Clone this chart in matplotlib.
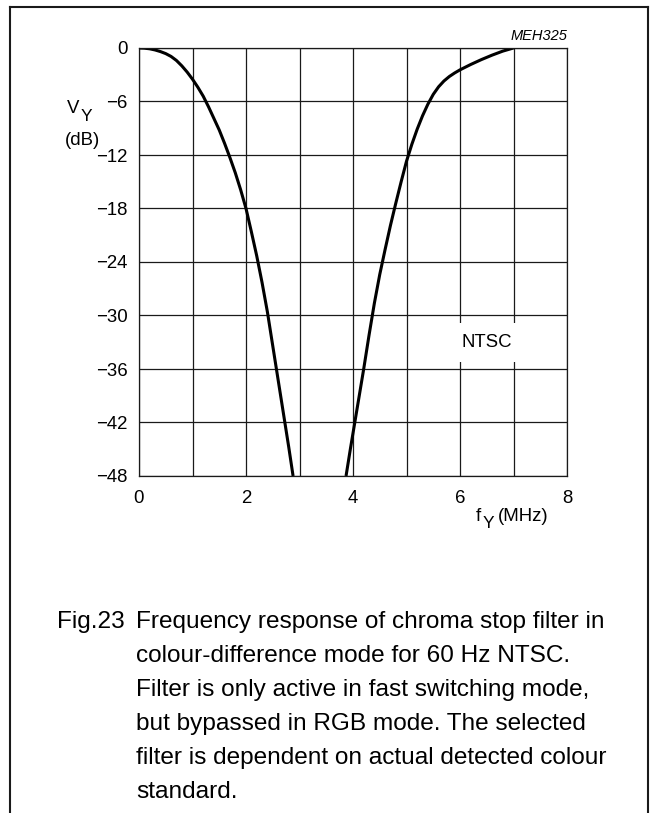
import numpy as np
import matplotlib
matplotlib.use("Agg")
import matplotlib.pyplot as plt
from matplotlib.lines import Line2D

plt.rcParams['font.family'] = ['Liberation Sans', 'DejaVu Sans']

# curve: frequency (MHz) vs response (dB)
f_low = [0.0, 0.1, 0.2, 0.3, 0.4, 0.5, 0.6, 0.7, 0.8, 0.9, 1.0, 1.1, 1.2, 1.3, 1.4,
         1.5, 1.6, 1.7, 1.8, 1.9, 2.0, 2.1, 2.2, 2.3, 2.4, 2.5, 2.6, 2.7, 2.8, 2.88]
v_low = [0.0, -0.02, -0.09, -0.22, -0.4, -0.63, -0.95, -1.4, -2.0, -2.7, -3.5, -4.4, -5.4, -6.6, -7.9,
         -9.2, -10.7, -12.3, -14.0, -15.9, -18.0, -20.6, -23.3, -26.3, -29.6, -33.4, -37.2, -41.0, -44.8, -48.0]
f_high = [3.87, 3.95, 4.0, 4.1, 4.2, 4.3, 4.4, 4.5, 4.6, 4.7, 4.8, 4.9, 5.0, 5.1, 5.2,
          5.3, 5.4, 5.5, 5.6, 5.7, 5.8, 5.9, 6.0, 6.2, 6.4, 6.6, 6.8, 7.0]
v_high = [-48.0, -45.0, -43.2, -39.6, -36.0, -32.2, -28.6, -25.4, -22.6, -19.9, -17.4, -15.0, -12.7, -10.8, -9.1,
          -7.6, -6.3, -5.2, -4.35, -3.7, -3.2, -2.8, -2.45, -1.85, -1.3, -0.8, -0.35, 0.0]

x_ticks = [0, 2, 4, 6, 8]
y_ticks = [0, -6, -12, -18, -24, -30, -36, -42, -48]

caption_head = "Fig.23"
caption_lines = [
    "Frequency response of chroma stop filter in",
    "colour-difference mode for 60 Hz NTSC.",
    "Filter is only active in fast switching mode,",
    "but bypassed in RGB mode. The selected",
    "filter is dependent on actual detected colour",
    "standard.",
]

W, H = 655, 813
fig = plt.figure(figsize=(W / 100, H / 100), dpi=100)


def fx(px):
    return px / W


def fy(py):
    return 1 - py / H


# axes box in pixels: left 139, right 567, top 48, bottom 476
ax = fig.add_axes([fx(139), fy(476), fx(567) - fx(139), fy(48) - fy(476)])
ax.plot(f_low, v_low, color='black', lw=2.2, solid_capstyle='butt', solid_joinstyle='round')
ax.plot(f_high, v_high, color='black', lw=2.2, solid_capstyle='butt', solid_joinstyle='round')

ax.set_xlim(0, 8)
ax.set_ylim(-48, 0)
ax.set_xticks(x_ticks)
ax.set_xticks(range(0, 9), minor=True)
ax.set_yticks(y_ticks)
ax.set_xticklabels([str(t) for t in x_ticks])
ax.set_yticklabels(['0' if t == 0 else '\u2212' + str(-t) for t in y_ticks])
ax.tick_params(which='both', length=0, labelsize=13.4, pad=8)
ax.tick_params(axis='x', pad=10)
ax.grid(which='both', color='#1a1a1a', lw=0.9)
for s in ax.spines.values():
    s.set_color('#1a1a1a')
    s.set_linewidth(0.9)

ax.text(6.5, -33, 'NTSC', ha='center', va='center', fontsize=13.4,
        bbox=dict(facecolor='white', edgecolor='none', pad=8))

# axis labels
fig.text(fx(67), fy(113), 'V', fontsize=13.4, ha='left', va='baseline')
fig.text(fx(81), fy(121), 'Y', fontsize=12.5, ha='left', va='baseline')
fig.text(fx(65), fy(145), '(dB)', fontsize=13.4, ha='left', va='baseline')

fig.text(fx(476), fy(521), 'f', fontsize=13.4, ha='left', va='baseline')
fig.text(fx(483), fy(528), 'Y', fontsize=12.5, ha='left', va='baseline')
fig.text(fx(498), fy(521), '(MHz)', fontsize=13.4, ha='left', va='baseline')

fig.text(fx(567), fy(40), 'MEH325', fontsize=10.5, style='italic', ha='right', va='baseline')

# caption
base0, step = 628, 34
fig.text(fx(57), fy(base0), caption_head, fontsize=17.6, ha='left', va='baseline')
for i, line in enumerate(caption_lines):
    fig.text(fx(136), fy(base0 + i * step), line, fontsize=17.6, ha='left', va='baseline')

# outer frame (open at bottom)
frame_kw = dict(color='#1a1a1a', lw=1.5, transform=fig.transFigure)
fig.add_artist(Line2D([fx(10), fx(10)], [fy(7), 0], **frame_kw))
fig.add_artist(Line2D([fx(648), fx(648)], [fy(7), 0], **frame_kw))
fig.add_artist(Line2D([fx(10), fx(648)], [fy(7), fy(7)], **frame_kw))

fig.savefig('out.png', dpi=100)
